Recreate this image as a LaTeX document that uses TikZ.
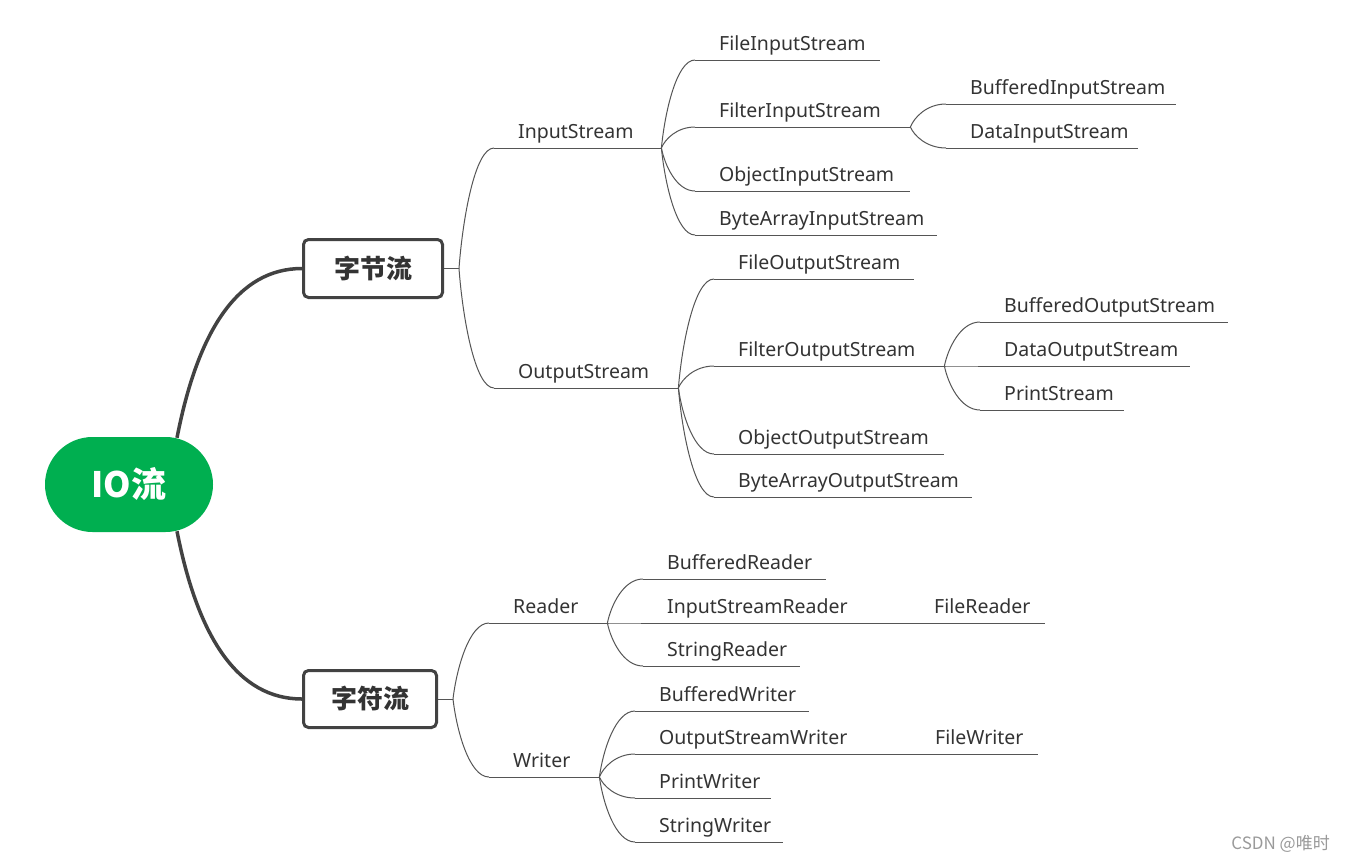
\documentclass[tikz,border=0pt]{standalone}
\usepackage{fontspec}
\setmainfont{Noto Sans}
\newfontfamily\cjk{Noto Sans CJK SC}
\usetikzlibrary{calc}
\definecolor{txt}{HTML}{333333}
\definecolor{ln}{HTML}{555555}
\definecolor{thick}{HTML}{424242}
\definecolor{rootg}{HTML}{00AF50}
\definecolor{wm}{HTML}{9A9A9A}
\newcommand\lab[2]{\makebox[#1pt][l]{\hspace*{24pt}#2}}
\newcommand\brc[2]{\draw[conn] let \p1=(#1), \p2=(#2) in (\p1) .. controls ({\x1+0.1*(\x2-\x1)},{\y1+0.4*(\y2-\y1)}) and ({\x1+0.45*(\x2-\x1)},\y2) .. (\p2);}
\tikzset{
 leaf/.style={inner sep=0pt, anchor=south west, text depth=9.8pt, text height=15pt, text=txt, font=\fontsize{19.5}{23}\selectfont},
 conn/.style={draw=ln, line width=1pt},
 uline/.style={draw=ln, line width=1pt},
 mainconn/.style={draw=thick, line width=3.5pt},
 catbox/.style={draw=thick, line width=3pt, rounded corners=5pt, fill=white, text=txt, inner sep=0pt, font=\cjk\bfseries\fontsize{26}{30}\selectfont},
 rootnode/.style={fill=rootg, rounded corners=47.5pt, minimum width=168pt, minimum height=95pt, text=white, inner sep=0pt, font=\cjk\bfseries\fontsize{35}{40}\selectfont},
 wmark/.style={text=wm, anchor=east, inner sep=0pt, font=\cjk\fontsize{17}{20}\selectfont},
}
\begin{document}
\begin{tikzpicture}[x=1pt,y=-1pt]
\fill[white] (0,0) rectangle (1345,863);
\useasboundingbox (0,0) rectangle (1345,863);
% main nodes
\node[rootnode] (root) at (129,484.5) {IO流};
\node[catbox, minimum width=139pt, minimum height=58pt] (byte) at (373,268.5) {字节流};
\node[catbox, minimum width=133pt, minimum height=57pt] (char) at (370,699) {字符流};
\draw[mainconn] ($(root.north)+(48,1)$) .. controls (198,330) and (238,268.5) .. (byte.west);
\draw[mainconn] ($(root.south)+(48,-1)$) .. controls (198,638) and (238,699) .. (char.west);
\coordinate (jb) at (459,268.5);
\coordinate (jc) at (453,699);
\draw[conn] (byte.east) -- (jb);
\draw[conn] (char.east) -- (jc);
% level 2
\node[leaf] (is) at (494,148) {\lab{167}{InputStream}};
\node[leaf] (os) at (494,388) {\lab{184}{OutputStream}};
\node[leaf] (rd) at (489,623) {\lab{118}{Reader}};
\node[leaf] (wr) at (489,777) {\lab{110}{Writer}};
% InputStream children
\node[leaf] (fis) at (695,60) {\lab{185}{FileInputStream}};
\node[leaf] (filis) at (695,127) {\lab{215}{FilterInputStream}};
\node[leaf] (ois) at (695,191) {\lab{215}{ObjectInputStream}};
\node[leaf] (bais) at (695,235) {\lab{242}{ByteArrayInputStream}};
\node[leaf] (bis) at (946,104) {\lab{230}{BufferedInputStream}};
\node[leaf] (dis) at (946,148) {\lab{192}{DataInputStream}};
% OutputStream children
\node[leaf] (fos) at (714,279) {\lab{200}{FileOutputStream}};
\node[leaf] (filos) at (714,366) {\lab{230}{FilterOutputStream}};
\node[leaf] (oos) at (714,454) {\lab{230}{ObjectOutputStream}};
\node[leaf] (baos) at (714,497) {\lab{258}{ByteArrayOutputStream}};
\node[leaf] (bos) at (980,322) {\lab{248}{BufferedOutputStream}};
\node[leaf] (dos) at (980,366) {\lab{210}{DataOutputStream}};
\node[leaf] (ps) at (980,410) {\lab{144}{PrintStream}};
% Reader children
\node[leaf] (br) at (643,579) {\lab{183}{BufferedReader}};
\node[leaf] (isr) at (643,623) {\lab{267}{InputStreamReader}};
\node[leaf] (fr) at (910,623) {\lab{135}{FileReader}};
\node[leaf] (sr) at (643,666) {\lab{157}{StringReader}};
% Writer children
\node[leaf] (bw) at (635,711) {\lab{174}{BufferedWriter}};
\node[leaf] (osw) at (635,754) {\lab{276}{OutputStreamWriter}};
\node[leaf] (fw) at (911,754) {\lab{127}{FileWriter}};
\node[leaf] (pw) at (635,798) {\lab{136}{PrintWriter}};
\node[leaf] (sw) at (635,842) {\lab{148}{StringWriter}};
% underlines
\foreach \n in {is,os,rd,wr,fis,filis,ois,bais,bis,dis,fos,filos,oos,baos,bos,dos,ps,br,isr,fr,sr,bw,osw,fw,pw,sw}
  \draw[uline] (\n.south west) -- (\n.south east);
% connectors
\brc{jb}{is.south west}
\brc{jb}{os.south west}
\brc{jc}{rd.south west}
\brc{jc}{wr.south west}
\foreach \c in {fis,filis,ois,bais} {\brc{is.south east}{\c.south west}}
\foreach \c in {bis,dis} {\brc{filis.south east}{\c.south west}}
\foreach \c in {fos,filos,oos,baos} {\brc{os.south east}{\c.south west}}
\foreach \c in {bos,dos,ps} {\brc{filos.south east}{\c.south west}}
\foreach \c in {br,isr,sr} {\brc{rd.south east}{\c.south west}}
\foreach \c in {bw,osw,pw,sw} {\brc{wr.south east}{\c.south west}}
% watermark
\node[wmark] (wmk) at (1330,844) {CSDN @唯时};
\end{tikzpicture}
\end{document}
